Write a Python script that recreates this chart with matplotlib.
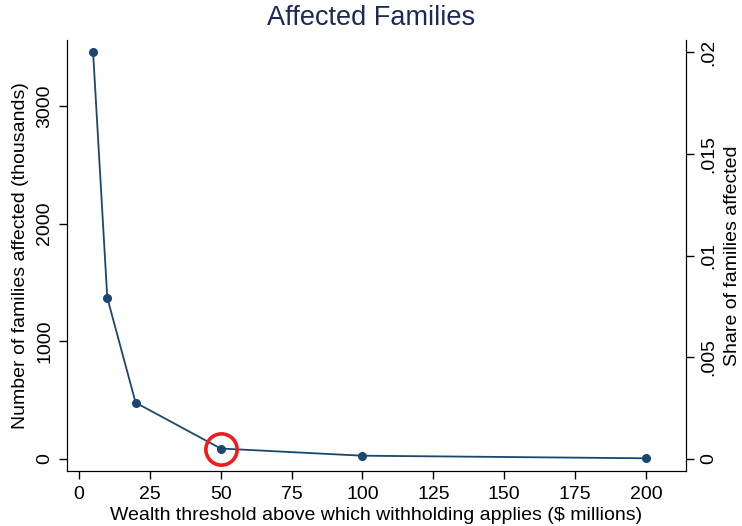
import matplotlib
matplotlib.use("Agg")
import matplotlib.pyplot as plt

plt.rcParams['font.family'] = ['Liberation Sans', 'DejaVu Sans']

# wealth thresholds ($ millions) and number of families affected (thousands)
thresholds = [5, 10, 20, 50, 100, 200]
families = [3458, 1371, 479, 89, 28, 6]
highlight = 50
share_scale = 3458 / 0.02  # thousands of families per unit share

x_ticks = [0, 25, 50, 75, 100, 125, 150, 175, 200]
left_ticks = [0, 1000, 2000, 3000]
right_ticks = [0, 0.005, 0.01, 0.015, 0.02]
right_labels = ["0", ".005", ".01", ".015", ".02"]

navy = "#1a476f"
fs = 14

fig = plt.figure(figsize=(7.42, 5.26), dpi=100)
ax = fig.add_axes([67/742, 1 - 471/526, (686 - 67)/742, (471 - 40)/526])

ax.plot(thresholds, families, color=navy, lw=1.3, marker="o", ms=5.5, zorder=3)
hy = families[thresholds.index(highlight)]
ax.plot([highlight], [hy], marker="o", ms=22.5, mfc="none", mec="#ee1c1c", mew=2.6, zorder=4)

ax.set_xlim(-4.2, 214.1)
ax.set_ylim(-102, 3561)
ax.set_xticks(x_ticks)
ax.set_yticks(left_ticks)
ax.tick_params(axis="both", labelsize=fs, length=6, width=1, color="black")
ax.tick_params(axis="x", pad=5)
ax.tick_params(axis="y", labelrotation=90, pad=4)
for t in ax.get_yticklabels():
    t.set_va("center")
ax.spines["top"].set_visible(False)
ax.set_xlabel("Wealth threshold above which withholding applies ($ millions)", fontsize=fs, labelpad=3)
ax.set_ylabel("Number of families affected (thousands)", fontsize=fs, labelpad=5)

ax2 = ax.twinx()
ax2.set_ylim(-102 / share_scale, 3561 / share_scale)
ax2.set_yticks(right_ticks)
ax2.set_yticklabels(right_labels)
ax2.tick_params(axis="y", labelsize=fs, length=6, width=1, labelrotation=90, pad=4)
for t in ax2.get_yticklabels():
    t.set_va("center")
ax2.spines["top"].set_visible(False)
ax2.set_ylabel("Share of families affected", fontsize=fs, labelpad=5)

fig.text(0.5, 1 - 18/526, "Affected Families", fontsize=19.5, color="#1e2a55",
         ha="center", va="center")

fig.savefig("out.png", dpi=100)
